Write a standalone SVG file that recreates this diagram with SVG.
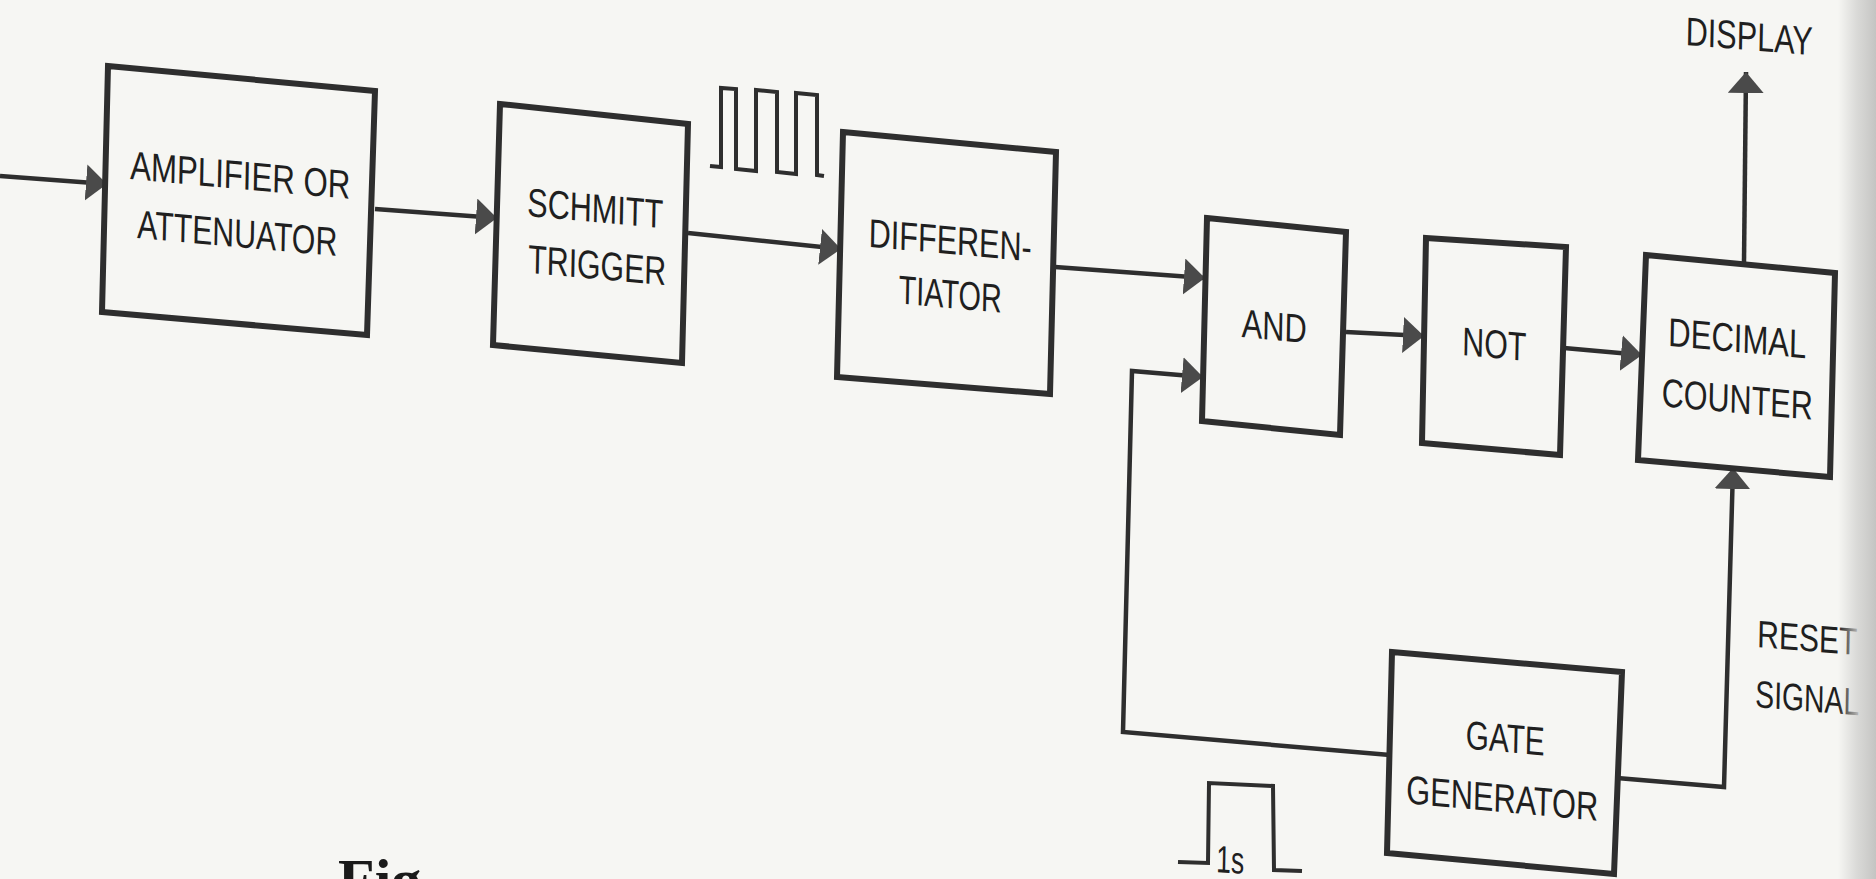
<svg xmlns="http://www.w3.org/2000/svg" width="1876" height="879" viewBox="0 0 1876 879">
<style>
.box{fill:none;stroke:#2e2e2e;stroke-width:6;stroke-linejoin:miter}
.wire{fill:none;stroke:#2e2e2e;stroke-width:4.5;stroke-linejoin:miter}
.wave{fill:none;stroke:#2e2e2e;stroke-width:4;stroke-linejoin:miter}
.lbl{font-family:"Liberation Sans",Arial,sans-serif;font-size:40px;fill:#1f1f1f;text-anchor:middle}
.lbs{font-family:"Liberation Sans",Arial,sans-serif;font-size:38px;fill:#1f1f1f;text-anchor:start}
</style>
<defs>
<marker id="arr" markerUnits="userSpaceOnUse" markerWidth="24" markerHeight="40" refX="21" refY="18" orient="auto">
<path d="M0,0 L21,18 L0,36 Z" fill="#4a4a4a"/>
</marker>
<linearGradient id="edge" x1="0" y1="0" x2="1" y2="0">
<stop offset="0" stop-color="#d2d2d0" stop-opacity="0"/>
<stop offset="0.5" stop-color="#d2d2d0" stop-opacity="0.8"/>
<stop offset="1" stop-color="#c4c4c2" stop-opacity="1"/>
</linearGradient>
</defs>
<rect x="0" y="0" width="1876" height="879" fill="#f6f6f3"/>

<g id="connectors">
<polyline class="wire" points="0,176 107,184" marker-end="url(#arr)"/>
<polyline class="wire" points="375,209 497,218" marker-end="url(#arr)"/>
<polyline class="wire" points="688,233 841,249" marker-end="url(#arr)"/>
<polyline class="wire" points="1055,267 1205,278" marker-end="url(#arr)"/>
<polyline class="wire" points="1346,332 1424,336" marker-end="url(#arr)"/>
<polyline class="wire" points="1564,348 1642,355" marker-end="url(#arr)"/>
<polyline class="wire" points="1744,262 1746,72" marker-end="url(#arr)"/>
<polyline class="wire" points="1390,755 1123,732 1132,371 1203,377" marker-end="url(#arr)"/>
<polyline class="wire" points="1617,778 1724,787 1733,468" marker-end="url(#arr)"/>
</g>

<g id="amplifier">
<polygon class="box" points="108,66 375,91 367,335 102,312"/>
<text class="lbl" textLength="220" lengthAdjust="spacingAndGlyphs" transform="matrix(1,0.09,-0.02,1,240,189)">AMPLIFIER OR</text>
<text class="lbl" textLength="200" lengthAdjust="spacingAndGlyphs" transform="matrix(1,0.09,-0.02,1,237,247)">ATTENUATOR</text>
</g>

<g id="schmitt">
<polygon class="box" points="500,104 688,124 682,363 493,345"/>
<text class="lbl" textLength="136" lengthAdjust="spacingAndGlyphs" transform="matrix(1,0.09,-0.02,1,595,222)">SCHMITT</text>
<text class="lbl" textLength="138" lengthAdjust="spacingAndGlyphs" transform="matrix(1,0.09,-0.02,1,597,279)">TRIGGER</text>
</g>

<g id="waveform">
<polyline class="wave" points="710,166 721,167 721,88 736,89 736,169 756,171 756,90 777,92 777,172 796,174 796,93 817,95 817,175 824,176"/>
</g>

<g id="differentiator">
<polygon class="box" points="843,132 1056,152 1050,394 837,377"/>
<text class="lbl" textLength="163" lengthAdjust="spacingAndGlyphs" transform="matrix(1,0.09,-0.02,1,950,254)">DIFFEREN-</text>
<text class="lbl" textLength="103" lengthAdjust="spacingAndGlyphs" transform="matrix(1,0.09,-0.02,1,950,308)">TIATOR</text>
</g>

<g id="and">
<polygon class="box" points="1207,218 1346,232 1340,435 1202,421"/>
<text class="lbl" textLength="65" lengthAdjust="spacingAndGlyphs" transform="matrix(1,0.09,-0.02,1,1274,340)">AND</text>
</g>

<g id="not">
<polygon class="box" points="1426,238 1566,247 1560,455 1422,443"/>
<text class="lbl" textLength="64" lengthAdjust="spacingAndGlyphs" transform="matrix(1,0.09,-0.02,1,1494,358)">NOT</text>
</g>

<g id="counter">
<polygon class="box" points="1646,255 1835,273 1830,477 1638,460"/>
<text class="lbl" textLength="138" lengthAdjust="spacingAndGlyphs" transform="matrix(1,0.09,-0.02,1,1737,352)">DECIMAL</text>
<text class="lbl" textLength="151" lengthAdjust="spacingAndGlyphs" transform="matrix(1,0.09,-0.02,1,1737,413)">COUNTER</text>
</g>

<g id="gate">
<polygon class="box" points="1392,652 1622,672 1614,874 1387,853"/>
<text class="lbl" textLength="79" lengthAdjust="spacingAndGlyphs" transform="matrix(1,0.09,-0.02,1,1505,752)">GATE</text>
<text class="lbl" textLength="192" lengthAdjust="spacingAndGlyphs" transform="matrix(1,0.09,-0.02,1,1502,812)">GENERATOR</text>
</g>

<g id="pulse">
<polyline class="wave" points="1178,862 1208,863 1209,783 1273,786 1274,870 1302,871"/>
<text class="lbs" textLength="28" lengthAdjust="spacingAndGlyphs" transform="matrix(1,0.07,-0.02,1,1216,872)">1s</text>
</g>

<g id="labels">
<text class="lbl" textLength="127" lengthAdjust="spacingAndGlyphs" transform="matrix(1,0.08,-0.02,1,1749,50)">DISPLAY</text>
<text class="lbs" textLength="100" lengthAdjust="spacingAndGlyphs" transform="matrix(1,0.08,-0.02,1,1757,647)">RESET</text>
<text class="lbs" textLength="104" lengthAdjust="spacingAndGlyphs" transform="matrix(1,0.08,-0.02,1,1755,707)">SIGNAL</text>
<text x="338" y="900" font-family="Liberation Serif,serif" font-weight="bold" font-size="60" fill="#1a1a1a">Fig.</text>
</g>

<rect x="1838" y="0" width="38" height="879" fill="url(#edge)"/>
</svg>
